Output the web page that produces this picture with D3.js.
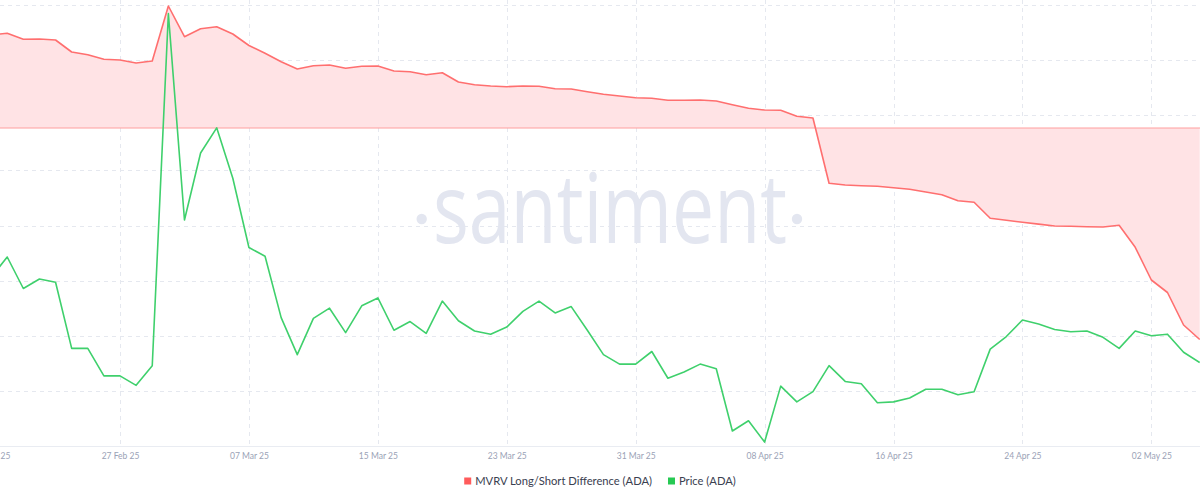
<!DOCTYPE html>
<html>
<head>
<meta charset="utf-8">
<script src="https://cdn.jsdelivr.net/npm/d3@7"></script>
<style>
  html, body { margin: 0; padding: 0; background: #ffffff; }
  svg { display: block; }
</style>
</head>
<body>
<svg id="chart" width="1200" height="500"></svg>
<script>
// ---- Data (daily, 19 Feb 2025 – 05 May 2025) ----
const startDate = "2025-02-19";
const mvrvValues = [
  9.3, 9.47, 8.87, 8.9, 8.8, 7.6, 7.33, 6.87, 6.8, 6.5,
  6.7, 12.2, 9.13, 9.93, 10.13, 9.4, 8.25, 7.47, 6.62, 5.9,
  6.23, 6.3, 5.97, 6.17, 6.2, 5.7, 5.63, 5.33, 5.53, 4.6,
  4.33, 4.2, 4.13, 4.2, 4.17, 3.93, 3.9, 3.63, 3.37, 3.2,
  3.03, 2.97, 2.77, 2.77, 2.8, 2.7, 2.33, 1.97, 1.8, 1.77,
  1.17, 1.0, -5.53, -5.7, -5.77, -5.83, -5.98, -6.13, -6.4, -6.67,
  -7.27, -7.43, -9.03, -9.23, -9.43, -9.61, -9.8, -9.83, -9.87, -9.9,
  -9.73, -11.93, -15.2, -16.45, -19.7, -21.15
];
const priceValues = [
  0.764, 0.790, 0.750, 0.762, 0.758, 0.674, 0.674, 0.639, 0.639, 0.627,
  0.652, 1.099, 0.837, 0.922, 0.954, 0.890, 0.802, 0.791, 0.713, 0.666,
  0.712, 0.725, 0.694, 0.728, 0.738, 0.697, 0.708, 0.693, 0.734, 0.709,
  0.696, 0.692, 0.701, 0.721, 0.734, 0.719, 0.727, 0.697, 0.666, 0.654,
  0.654, 0.670, 0.636, 0.644, 0.654, 0.648, 0.569, 0.582, 0.555, 0.626,
  0.606, 0.619, 0.652, 0.632, 0.629, 0.605, 0.606, 0.611, 0.622, 0.622,
  0.615, 0.619, 0.673, 0.689, 0.710, 0.705, 0.698, 0.695, 0.696, 0.688,
  0.674, 0.696, 0.690, 0.692, 0.669, 0.656
];
const tickDates = ["2025-02-19","2025-02-27","2025-03-07","2025-03-15","2025-03-23",
                   "2025-03-31","2025-04-08","2025-04-16","2025-04-24","2025-05-02"];
const priceGridValues = [0.62, 0.69, 0.76, 0.83, 0.90, 0.97, 1.04, 1.11];
const seriesNames = ["MVRV Long/Short Difference (ADA)", "Price (ADA)"];
const watermarkText = "santiment";

// ---- Setup ----
const parse = d3.utcParse("%Y-%m-%d");
const fmt = d3.utcFormat("%d %b %y");
const t0 = parse(startDate);
const dates = mvrvValues.map((_, i) => d3.utcDay.offset(t0, i));
const data = dates.map((d, i) => ({ date: d, mvrv: mvrvValues[i], price: priceValues[i] }));

const W = 1200, plotBottom = 446, plotTop = 5;
const svg = d3.select("#chart");

const x = d3.scaleUtc()
  .domain([parse("2025-02-19"), parse("2025-05-05")])
  .range([-8.9, 1199.7]);
const yPrice = d3.scaleLinear().domain([0.55, 1.11]).range([plotBottom, plotTop]);
const yMvrv = d3.scaleLinear().domain([-31.8, 12.3]).range([plotBottom, plotTop]);

const colors = { red: "#ff6f6f", redFill: "#ffe3e5", redZero: "#ff9e9e", green: "#3fd06c",
                 legendRed: "#ff5b5b", legendGreen: "#26c953" };

// ---- Grid ----
const grid = svg.append("g");
grid.selectAll("line.h").data(priceGridValues).join("line")
  .attr("x1", 0).attr("x2", W)
  .attr("y1", d => Math.round(yPrice(d)) + 0.5).attr("y2", d => Math.round(yPrice(d)) + 0.5)
  .attr("stroke", "#e5e8ef").attr("stroke-dasharray", "4,4");
grid.selectAll("line.v").data(tickDates.slice(1).map(parse)).join("line")
  .attr("x1", d => Math.round(x(d)) + 0.5).attr("x2", d => Math.round(x(d)) + 0.5)
  .attr("y1", 0).attr("y2", plotBottom)
  .attr("stroke", "#e5e8ef").attr("stroke-dasharray", "4,4");

// ---- Watermark ----
const wm = svg.append("g");
wm.append("text")
  .attr("x", 433).attr("y", 243)
  .attr("font-family", "'Open Sans', sans-serif")
  .attr("font-weight", 400)
  .attr("font-size", 97)
  .attr("textLength", 354)
  .attr("lengthAdjust", "spacingAndGlyphs")
  .attr("fill", "#e3e6f0")
  .text(watermarkText);
wm.selectAll("circle").data([421.7, 797]).join("circle")
  .attr("cx", d => d).attr("cy", 219).attr("r", 5.2).attr("fill", "#e3e6f0");

// ---- X axis ----
svg.append("line")
  .attr("x1", 0).attr("x2", W).attr("y1", plotBottom + 0.5).attr("y2", plotBottom + 0.5)
  .attr("stroke", "#e9ecf2");
const xAxis = d3.axisBottom(x).tickValues(tickDates.map(parse)).tickFormat(fmt).tickSize(0).tickPadding(0);
const gx = svg.append("g").attr("transform", `translate(0,${plotBottom})`).call(xAxis);
gx.select(".domain").remove();
gx.selectAll("text")
  .attr("y", 10.5)
  .attr("dy", "0.32em")
  .attr("font-family", "Lato, sans-serif")
  .attr("font-size", 8.5)
  .attr("fill", "#9aa2b6");

// ---- MVRV area & line ----
const area = d3.area().x(d => x(d.date)).y0(yMvrv(0)).y1(d => yMvrv(d.mvrv));
svg.append("path").datum(data).attr("d", area).attr("fill", colors.redFill);
svg.append("line")
  .attr("x1", 0).attr("x2", W).attr("y1", yMvrv(0)).attr("y2", yMvrv(0))
  .attr("stroke", colors.redZero).attr("stroke-width", 1);
const lineM = d3.line().x(d => x(d.date)).y(d => yMvrv(d.mvrv));
svg.append("path").datum(data).attr("d", lineM)
  .attr("fill", "none").attr("stroke", colors.red).attr("stroke-width", 1.6)
  .attr("stroke-linejoin", "round");

// ---- Price line ----
const lineP = d3.line().x(d => x(d.date)).y(d => yPrice(d.price));
svg.append("path").datum(data).attr("d", lineP)
  .attr("fill", "none").attr("stroke", colors.green).attr("stroke-width", 1.6)
  .attr("stroke-linejoin", "round");

// ---- Legend ----
const legend = svg.append("g").attr("transform", "translate(0,481)");
const items = [
  { name: seriesNames[0], color: colors.legendRed },
  { name: seriesNames[1], color: colors.legendGreen }
];
let cx = 0;
items.forEach((it, i) => {
  const g = legend.append("g").attr("transform", `translate(${cx},0)`);
  g.append("rect").attr("x", 0).attr("y", -3.5).attr("width", 7).attr("height", 7).attr("fill", it.color);
  const t = g.append("text").attr("x", 11).attr("y", 0).attr("dy", "0.35em")
    .attr("font-family", "Lato, sans-serif").attr("font-size", 11.2).attr("fill", "#3a4050")
    .text(it.name);
  cx += 11 + t.node().getComputedTextLength() + 16;
});
const totalW = cx - 16;
legend.attr("transform", `translate(${(W - totalW) / 2},481)`);
</script>
</body>
</html>
